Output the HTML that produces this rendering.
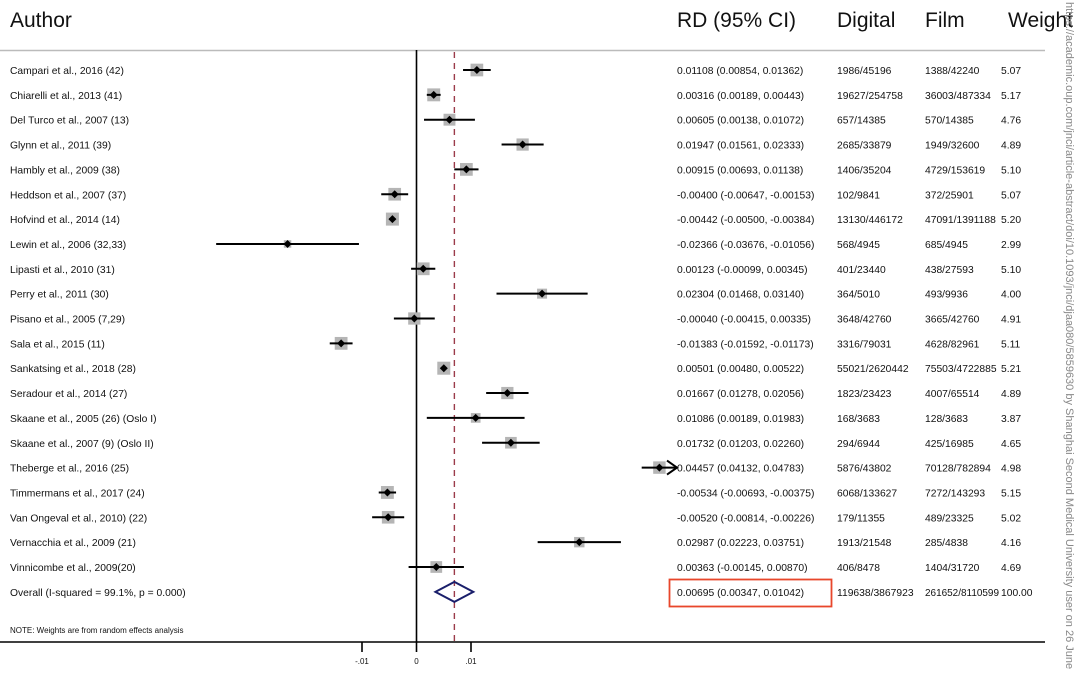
<!DOCTYPE html>
<html><head><meta charset="utf-8"><style>
html,body{margin:0;padding:0;background:#fff;width:1080px;height:673px;overflow:hidden}
svg{display:block;font-family:"Liberation Sans",Arial,sans-serif}
</style></head><body>
<svg id="chart" width="1080" height="673" viewBox="0 0 1080 673" xmlns="http://www.w3.org/2000/svg">
<g id="hdr" font-size="21" fill="#111">
<text x="10" y="27">Author</text>
<text x="677" y="27">RD (95% CI)</text>
<text x="837" y="27">Digital</text>
<text x="925" y="27">Film</text>
<text x="1008" y="27">Weight</text>
</g>
<line x1="0" y1="50.5" x2="1045" y2="50.5" stroke="#bbb" stroke-width="1.5"/>
<g id="plot"></g>
<text transform="translate(1066,2) rotate(90)" font-size="11" fill="#888">https://academic.oup.com/jnci/article-abstract/doi/10.1093/jnci/djaa080/5859630 by Shanghai Second Medical University user on 26 June</text>
</svg>
<script>
const authors=["Campari et al., 2016 (42)","Chiarelli et al., 2013 (41)","Del Turco et al., 2007 (13)","Glynn et al., 2011 (39)","Hambly et al., 2009 (38)","Heddson et al., 2007 (37)","Hofvind et al., 2014 (14)","Lewin et al., 2006 (32,33)","Lipasti et al., 2010 (31)","Perry et al., 2011 (30)","Pisano et al., 2005 (7,29)","Sala et al., 2015 (11)","Sankatsing et al., 2018 (28)","Seradour et al., 2014 (27)","Skaane et al., 2005 (26) (Oslo I)","Skaane et al., 2007 (9) (Oslo II)","Theberge et al., 2016 (25)","Timmermans et al., 2017 (24)","Van Ongeval et al., 2010) (22)","Vernacchia et al., 2009 (21)","Vinnicombe et al., 2009(20)"];
const rd=[0.01108,0.00316,0.00605,0.01947,0.00915,-0.00400,-0.00442,-0.02366,0.00123,0.02304,-0.00040,-0.01383,0.00501,0.01667,0.01086,0.01732,0.04457,-0.00534,-0.00520,0.02987,0.00363];
const lo=[0.00854,0.00189,0.00138,0.01561,0.00693,-0.00647,-0.00500,-0.03676,-0.00099,0.01468,-0.00415,-0.01592,0.00480,0.01278,0.00189,0.01203,0.04132,-0.00693,-0.00814,0.02223,-0.00145];
const hi=[0.01362,0.00443,0.01072,0.02333,0.01138,-0.00153,-0.00384,-0.01056,0.00345,0.03140,0.00335,-0.01173,0.00522,0.02056,0.01983,0.02260,0.04783,-0.00375,-0.00226,0.03751,0.00870];
const digital=["1986/45196","19627/254758","657/14385","2685/33879","1406/35204","102/9841","13130/446172","568/4945","401/23440","364/5010","3648/42760","3316/79031","55021/2620442","1823/23423","168/3683","294/6944","5876/43802","6068/133627","179/11355","1913/21548","406/8478"];
const film=["1388/42240","36003/487334","570/14385","1949/32600","4729/153619","372/25901","47091/1391188","685/4945","438/27593","493/9936","3665/42760","4628/82961","75503/4722885","4007/65514","128/3683","425/16985","70128/782894","7272/143293","489/23325","285/4838","1404/31720"];
const weight=[5.07,5.17,4.76,4.89,5.10,5.07,5.20,2.99,5.10,4.00,4.91,5.11,5.21,4.89,3.87,4.65,4.98,5.15,5.02,4.16,4.69];
const overall=[0.00695,0.00347,0.01042];
const xTicks=[-0.01,0,0.01];
const xTickLabels=["-.01","0",".01"];
const X=v=>416.5+v*5450;
const Y=i=>70+i*24.85;
const XMAX=0.0478;
const FS=10.3;
const NS="http://www.w3.org/2000/svg";
const g=document.getElementById('plot');
function mk(t,a,txt){const e=document.createElementNS(NS,t);for(const k in a)e.setAttribute(k,a[k]);if(txt!==undefined)e.textContent=txt;g.appendChild(e);return e;}
mk('line',{x1:416.5,y1:50,x2:416.5,y2:642,stroke:'#000','stroke-width':1.6});
const dl=mk('line',{x1:X(overall[0]),y1:52,x2:X(overall[0]),y2:642,stroke:'#9b3b4a','stroke-width':1.4,'stroke-dasharray':'6,5'});


for(let i=0;i<authors.length;i++){
 const y=Y(i);
 const t=mk('text',{x:10,y:y+4,'font-size':FS,fill:'#111'},authors[i]);
 
 
 const s=weight[i]*2.5;
 const b=mk('rect',{x:X(rd[i])-s/2,y:y-s/2,width:s,height:s,fill:'#b5b5b5'});
 
 
 const h=Math.min(hi[i],XMAX);
 const ci=mk('line',{x1:X(lo[i]),y1:y,x2:X(h),y2:y,stroke:'#000','stroke-width':2});
 
 
 if(hi[i]>XMAX){const a=mk('path',{d:`M${X(h)-10},${y-7} L${X(h)},${y} L${X(h)-10},${y+7}`,fill:'none',stroke:'#000','stroke-width':2});
  
  }
 const p=mk('path',{d:`M${X(rd[i])-4},${y} L${X(rd[i])},${y-4} L${X(rd[i])+4},${y} L${X(rd[i])},${y+4}Z`,fill:'#000'});
 
 
 const f=v=>(v<0?'-':'')+Math.abs(v).toFixed(5);
 const r=mk('text',{x:677,y:y+4,'font-size':FS,fill:'#111'},`${f(rd[i])} (${f(lo[i])}, ${f(hi[i])})`);
 
 
 const d=mk('text',{x:837,y:y+4,'font-size':FS,fill:'#111'},digital[i]);
 
 
 const fm=mk('text',{x:925,y:y+4,'font-size':FS,fill:'#111'},film[i]);
 
 
 const w=mk('text',{x:1001,y:y+4,'font-size':FS,fill:'#111'},weight[i].toFixed(2));
 
 
}
const oy=Y(authors.length);
const ol=mk('text',{x:10,y:oy+4,'font-size':FS,fill:'#111'},'Overall  (I-squared = 99.1%, p = 0.000)');


const dm=mk('path',{d:`M${X(overall[1])},${oy} L${X(overall[0])},${oy-10} L${X(overall[2])},${oy} L${X(overall[0])},${oy+10}Z`,fill:'none',stroke:'#1a1f6b','stroke-width':2});


const rb=mk('rect',{x:669.5,y:579.5,width:162,height:27,fill:'none',stroke:'#e8472b','stroke-width':1.8});


const ot=mk('text',{x:677,y:oy+4,'font-size':FS,fill:'#111'},`${overall[0].toFixed(5)} (${overall[1].toFixed(5)}, ${overall[2].toFixed(5)})`);


const od=mk('text',{x:837,y:oy+4,'font-size':FS,fill:'#111'},'119638/3867923');


const of=mk('text',{x:925,y:oy+4,'font-size':FS,fill:'#111','textLength':74,'lengthAdjust':'spacingAndGlyphs'},'261652/8110599');


const ow=mk('text',{x:1001,y:oy+4,'font-size':FS,fill:'#111'},'100.00');


const nt=mk('text',{x:10,y:633,'font-size':8,fill:'#111'},'NOTE: Weights are from random effects analysis');


const ax=mk('line',{x1:0,y1:642,x2:1045,y2:642,stroke:'#000','stroke-width':1.6});


xTicks.forEach((v,i)=>{
 const tk=mk('line',{x1:X(v),y1:642,x2:X(v),y2:652,stroke:'#000','stroke-width':1.6});
 
 
 const tl=mk('text',{x:X(v),y:664,'font-size':8,'text-anchor':'middle',fill:'#111'},xTickLabels[i]);
 
 
});
</script>
</body></html>
